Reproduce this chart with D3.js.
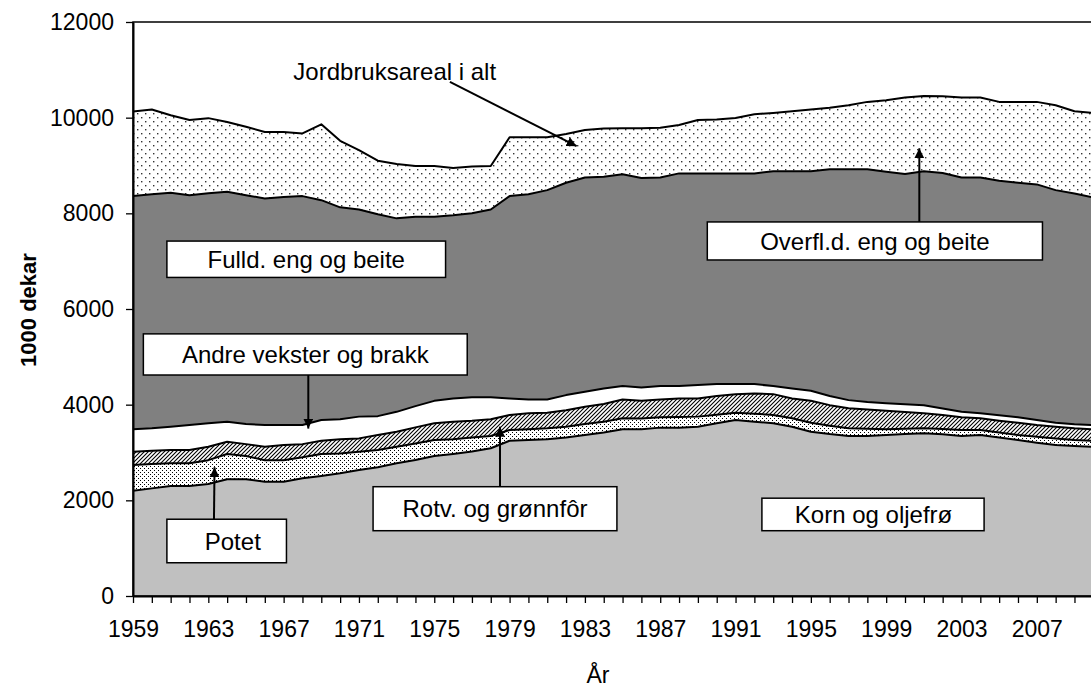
<!DOCTYPE html>
<html>
<head>
<meta charset="utf-8">
<script src="https://cdn.jsdelivr.net/npm/d3@7"></script>
<style>
body { margin: 0; background: #fff; }
text { font-family: "Liberation Sans", Arial, sans-serif; }
</style>
</head>
<body>
<div id="chart"></div>
<script>
// jordbruksareal etter bruk, 1000 dekar
var years = [1959, 1960, 1961, 1962, 1963, 1964, 1965, 1966, 1967, 1968,
	1969, 1970, 1971, 1972, 1973, 1974, 1975, 1976, 1977, 1978,
	1979, 1980, 1981, 1982, 1983, 1984, 1985, 1986, 1987, 1988,
	1989, 1990, 1991, 1992, 1993, 1994, 1995, 1996, 1997, 1998,
	1999, 2000, 2001, 2002, 2003, 2004, 2005, 2006, 2007, 2008,
	2009, 2010];

var kornOgOljefro = [2200, 2250, 2300, 2300, 2340, 2440, 2440, 2390, 2390, 2460,
	2510, 2565, 2635, 2690, 2775, 2845, 2925, 2970, 3020, 3090,
	3245, 3260, 3275, 3315, 3365, 3420, 3485, 3485, 3520, 3520,
	3540, 3610, 3680, 3645, 3610, 3540, 3435, 3385, 3345, 3345,
	3365, 3385, 3400, 3380, 3345, 3365, 3315, 3260, 3205, 3155,
	3135, 3120];

var potet = [540, 510, 475, 475, 500, 530, 485, 450, 450, 440,
	460, 415, 380, 360, 345, 345, 335, 305, 295, 255,
	225, 225, 230, 225, 230, 225, 230, 225, 215, 220,
	210, 180, 150, 165, 175, 175, 185, 175, 160, 150,
	120, 110, 105, 110, 125, 105, 105, 105, 125, 140,
	125, 125];

var rotvOgGronnfor = [275, 275, 275, 275, 280, 255, 250, 280, 315, 275,
	275, 295, 280, 315, 315, 335, 350, 370, 350, 350,
	315, 335, 325, 345, 360, 370, 395, 370, 375, 390,
	380, 390, 390, 425, 435, 415, 460, 430, 420, 405,
	390, 350, 315, 295, 265, 245, 245, 255, 245, 245,
	245, 240];

var andreVekster = [470, 470, 490, 525, 490, 420, 420, 455, 420, 400,
	435, 420, 455, 395, 415, 445, 470, 485, 490, 460,
	345, 290, 280, 315, 315, 325, 280, 280, 280, 260,
	280, 250, 210, 195, 170, 210, 210, 190, 170, 155,
	155, 165, 170, 135, 115, 105, 115, 115, 105, 80,
	85, 90];

var fulldEng = [4875, 4895, 4890, 4805, 4810, 4805, 4785, 4735, 4765, 4785,
	4595, 4430, 4330, 4220, 4045, 3960, 3850, 3830, 3845, 3925,
	4230, 4290, 4375, 4440, 4480, 4425, 4425, 4380, 4360, 4445,
	4425, 4405, 4405, 4405, 4490, 4540, 4590, 4740, 4825, 4865,
	4840, 4810, 4890, 4925, 4900, 4930, 4900, 4905, 4925, 4865,
	4825, 4755];

var overflEng = [1770, 1770, 1620, 1570, 1570, 1460, 1430, 1390, 1360, 1310,
	1585, 1390, 1240, 1120, 1135, 1060, 1060, 990, 980, 910,
	1230, 1190, 1105, 1020, 990, 1010, 965, 1040, 1040, 1010,
	1115, 1125, 1160, 1235, 1220, 1255, 1290, 1285, 1340, 1410,
	1495, 1600, 1575, 1605, 1670, 1670, 1650, 1690, 1725, 1775,
	1720, 1770];

var yTicks = [0, 2000, 4000, 6000, 8000, 10000, 12000];
var xTickLabels = [1959, 1963, 1967, 1971, 1975, 1979, 1983, 1987, 1991, 1995, 1999, 2003, 2007];

var keys = ["korn", "potet", "rotv", "andre", "fulld", "overfl"];

var width = 1091,
	height = 689;

var svg = d3
	.select("#chart")
	.append("svg")
	.attr("width", width)
	.attr("height", height);

var x = d3.scaleLinear().domain([1959, 2010]).range([133, 1093.3]);
var y = d3.scaleLinear().domain([0, 12000]).range([596, 22]);

var defs = svg.append("defs");

// sparse dots (Overfl.d. eng og beite)
var p1 = defs
	.append("pattern")
	.attr("id", "sparseDots")
	.attr("patternUnits", "userSpaceOnUse")
	.attr("width", 8)
	.attr("height", 8);
p1.append("rect").attr("width", 8).attr("height", 8).attr("fill", "#fff");
p1.append("rect").attr("x", 1).attr("y", 1).attr("width", 1.4).attr("height", 1.4).attr("fill", "#333");
p1.append("rect").attr("x", 5).attr("y", 5).attr("width", 1.4).attr("height", 1.4).attr("fill", "#333");

// dense dots (Potet)
var p2 = defs
	.append("pattern")
	.attr("id", "denseDots")
	.attr("patternUnits", "userSpaceOnUse")
	.attr("width", 4)
	.attr("height", 4);
p2.append("rect").attr("width", 4).attr("height", 4).attr("fill", "#fff");
p2.append("rect").attr("x", 0).attr("y", 0).attr("width", 1).attr("height", 1).attr("fill", "#000");
p2.append("rect").attr("x", 2).attr("y", 2).attr("width", 1).attr("height", 1).attr("fill", "#000");

// diagonal hatch (Rotv. og grønnfôr)
var p3 = defs
	.append("pattern")
	.attr("id", "hatch")
	.attr("patternUnits", "userSpaceOnUse")
	.attr("width", 4)
	.attr("height", 4);
p3.append("rect").attr("width", 4).attr("height", 4).attr("fill", "#fff");
p3.append("path")
	.attr("d", "M-1,1L1,-1M0,4L4,0M3,5L5,3")
	.attr("stroke", "#000")
	.attr("stroke-width", 1.1);

defs.append("clipPath")
	.attr("id", "plotClip")
	.append("rect")
	.attr("x", 133)
	.attr("y", 22)
	.attr("width", 1000)
	.attr("height", 574);

defs.append("marker")
	.attr("id", "arrow")
	.attr("viewBox", "0 0 10 10")
	.attr("refX", 10)
	.attr("refY", 5)
	.attr("markerWidth", 5)
	.attr("markerHeight", 5)
	.attr("orient", "auto")
	.append("path")
	.attr("d", "M0,0L10,5L0,10z")
	.attr("fill", "#000");

var fills = {
	korn: "#c0c0c0",
	potet: "url(#denseDots)",
	rotv: "url(#hatch)",
	andre: "#ffffff",
	fulld: "#808080",
	overfl: "url(#sparseDots)",
};

var table = years.map(function (yr, i) {
	return {
		year: yr,
		korn: kornOgOljefro[i],
		potet: potet[i],
		rotv: rotvOgGronnfor[i],
		andre: andreVekster[i],
		fulld: fulldEng[i],
		overfl: overflEng[i],
	};
});

var series = d3.stack().keys(keys)(table);

var area = d3
	.area()
	.x(function (d) {
		return x(d.data.year);
	})
	.y0(function (d) {
		return y(d[0]);
	})
	.y1(function (d) {
		return y(d[1]);
	});

var topLine = d3
	.line()
	.x(function (d) {
		return x(d.data.year);
	})
	.y(function (d) {
		return y(d[1]);
	});

var plot = svg.append("g").attr("clip-path", "url(#plotClip)");

plot
	.selectAll(".layer")
	.data(series)
	.enter()
	.append("path")
	.attr("class", "layer")
	.attr("d", area)
	.attr("fill", function (d) {
		return fills[d.key];
	});

plot
	.selectAll(".edge")
	.data(series)
	.enter()
	.append("path")
	.attr("class", "edge")
	.attr("d", topLine)
	.attr("fill", "none")
	.attr("stroke", "#000")
	.attr("stroke-width", 2)
	.attr("stroke-linejoin", "round");

// plot frame
svg.append("rect")
	.attr("x", 133)
	.attr("y", 22)
	.attr("width", 1000)
	.attr("height", 574)
	.attr("fill", "none")
	.attr("stroke", "#000")
	.attr("stroke-width", 1.5);

// Y axis
var yAxis = svg
	.append("g")
	.attr("transform", "translate(133,0)")
	.call(
		d3
			.axisLeft(y)
			.tickValues(yTicks)
			.tickSize(7)
			.tickSizeOuter(0)
			.tickPadding(12)
			.tickFormat(d3.format("d"))
	);

// X axis
var xAxis = svg
	.append("g")
	.attr("transform", "translate(0,596)")
	.call(
		d3
			.axisBottom(x)
			.tickValues(years)
			.tickSize(7)
			.tickSizeOuter(0)
			.tickPadding(18)
			.tickFormat(function (d) {
				return xTickLabels.indexOf(d) >= 0 ? d : "";
			})
	);

[yAxis, xAxis].forEach(function (g) {
	g.attr("font-family", null).attr("font-size", null);
	g.selectAll("text").attr("font-size", 23).attr("fill", "#000");
	g.selectAll("line").attr("stroke", "#000").attr("stroke-width", 1.3);
	g.select(".domain").attr("stroke", "#000").attr("stroke-width", 2);
});

svg.append("text")
	.attr("transform", "translate(36,310)rotate(-90)")
	.attr("text-anchor", "middle")
	.attr("font-size", 22)
	.attr("font-weight", "bold")
	.text("1000 dekar");

svg.append("text")
	.attr("x", 598)
	.attr("y", 683)
	.attr("text-anchor", "middle")
	.attr("font-size", 23)
	.text("År");

// label boxes, in data coordinates
var boxes = [
	{ label: "Fulld. eng og beite", x0: 1960.8, x1: 1975.6, top: 7420, bottom: 6660 },
	{ label: "Overfl.d. eng og beite", x0: 1989.5, x1: 2007.3, top: 7820, bottom: 7025 },
	{ label: "Andre vekster og brakk", x0: 1959.55, x1: 1976.75, top: 5480, bottom: 4620 },
	{ label: "Potet", x0: 1960.8, x1: 1967.15, top: 1605, bottom: 695, tx: 1964.3 },
	{ label: "Rotv. og grønnfôr", x0: 1971.75, x1: 1984.7, top: 2285, bottom: 1365 },
	{ label: "Korn og oljefrø", x0: 1992.4, x1: 2004.2, top: 2045, bottom: 1365, tx: 1998.33 },
];

var arrows = [
	{ x1: 1975.83, v1: 10750, x2: 1982.56, v2: 9405 },
	{ x1: 2000.76, v1: 7820, x2: 2000.76, v2: 9360 },
	{ x1: 1968.31, v1: 4620, x2: 1968.31, v2: 3500 },
	{ x1: 1963.3, v1: 1605, x2: 1963.33, v2: 2690 },
	{ x1: 1978.49, v1: 2285, x2: 1978.49, v2: 3540 },
];

svg.selectAll(".arrow")
	.data(arrows)
	.enter()
	.append("line")
	.attr("class", "arrow")
	.attr("x1", function (d) { return x(d.x1); })
	.attr("y1", function (d) { return y(d.v1); })
	.attr("x2", function (d) { return x(d.x2); })
	.attr("y2", function (d) { return y(d.v2); })
	.attr("stroke", "#000")
	.attr("stroke-width", 2)
	.attr("marker-end", "url(#arrow)");

var box = svg
	.selectAll(".box")
	.data(boxes)
	.enter()
	.append("g")
	.attr("class", "box");

box.append("rect")
	.attr("x", function (d) { return x(d.x0); })
	.attr("y", function (d) { return y(d.top); })
	.attr("width", function (d) { return x(d.x1) - x(d.x0); })
	.attr("height", function (d) { return y(d.bottom) - y(d.top); })
	.attr("fill", "#fff")
	.attr("stroke", "#000")
	.attr("stroke-width", 1.5);

box.append("text")
	.attr("x", function (d) { return x(d.tx || (d.x0 + d.x1) / 2); })
	.attr("y", function (d) { return (y(d.top) + y(d.bottom)) / 2; })
	.attr("dy", "0.36em")
	.attr("text-anchor", "middle")
	.attr("font-size", 24)
	.text(function (d) { return d.label; });

svg.append("text")
	.attr("x", x(1972.9))
	.attr("y", y(10787))
	.attr("text-anchor", "middle")
	.attr("font-size", 24)
	.text("Jordbruksareal i alt");
</script>
</body>
</html>
